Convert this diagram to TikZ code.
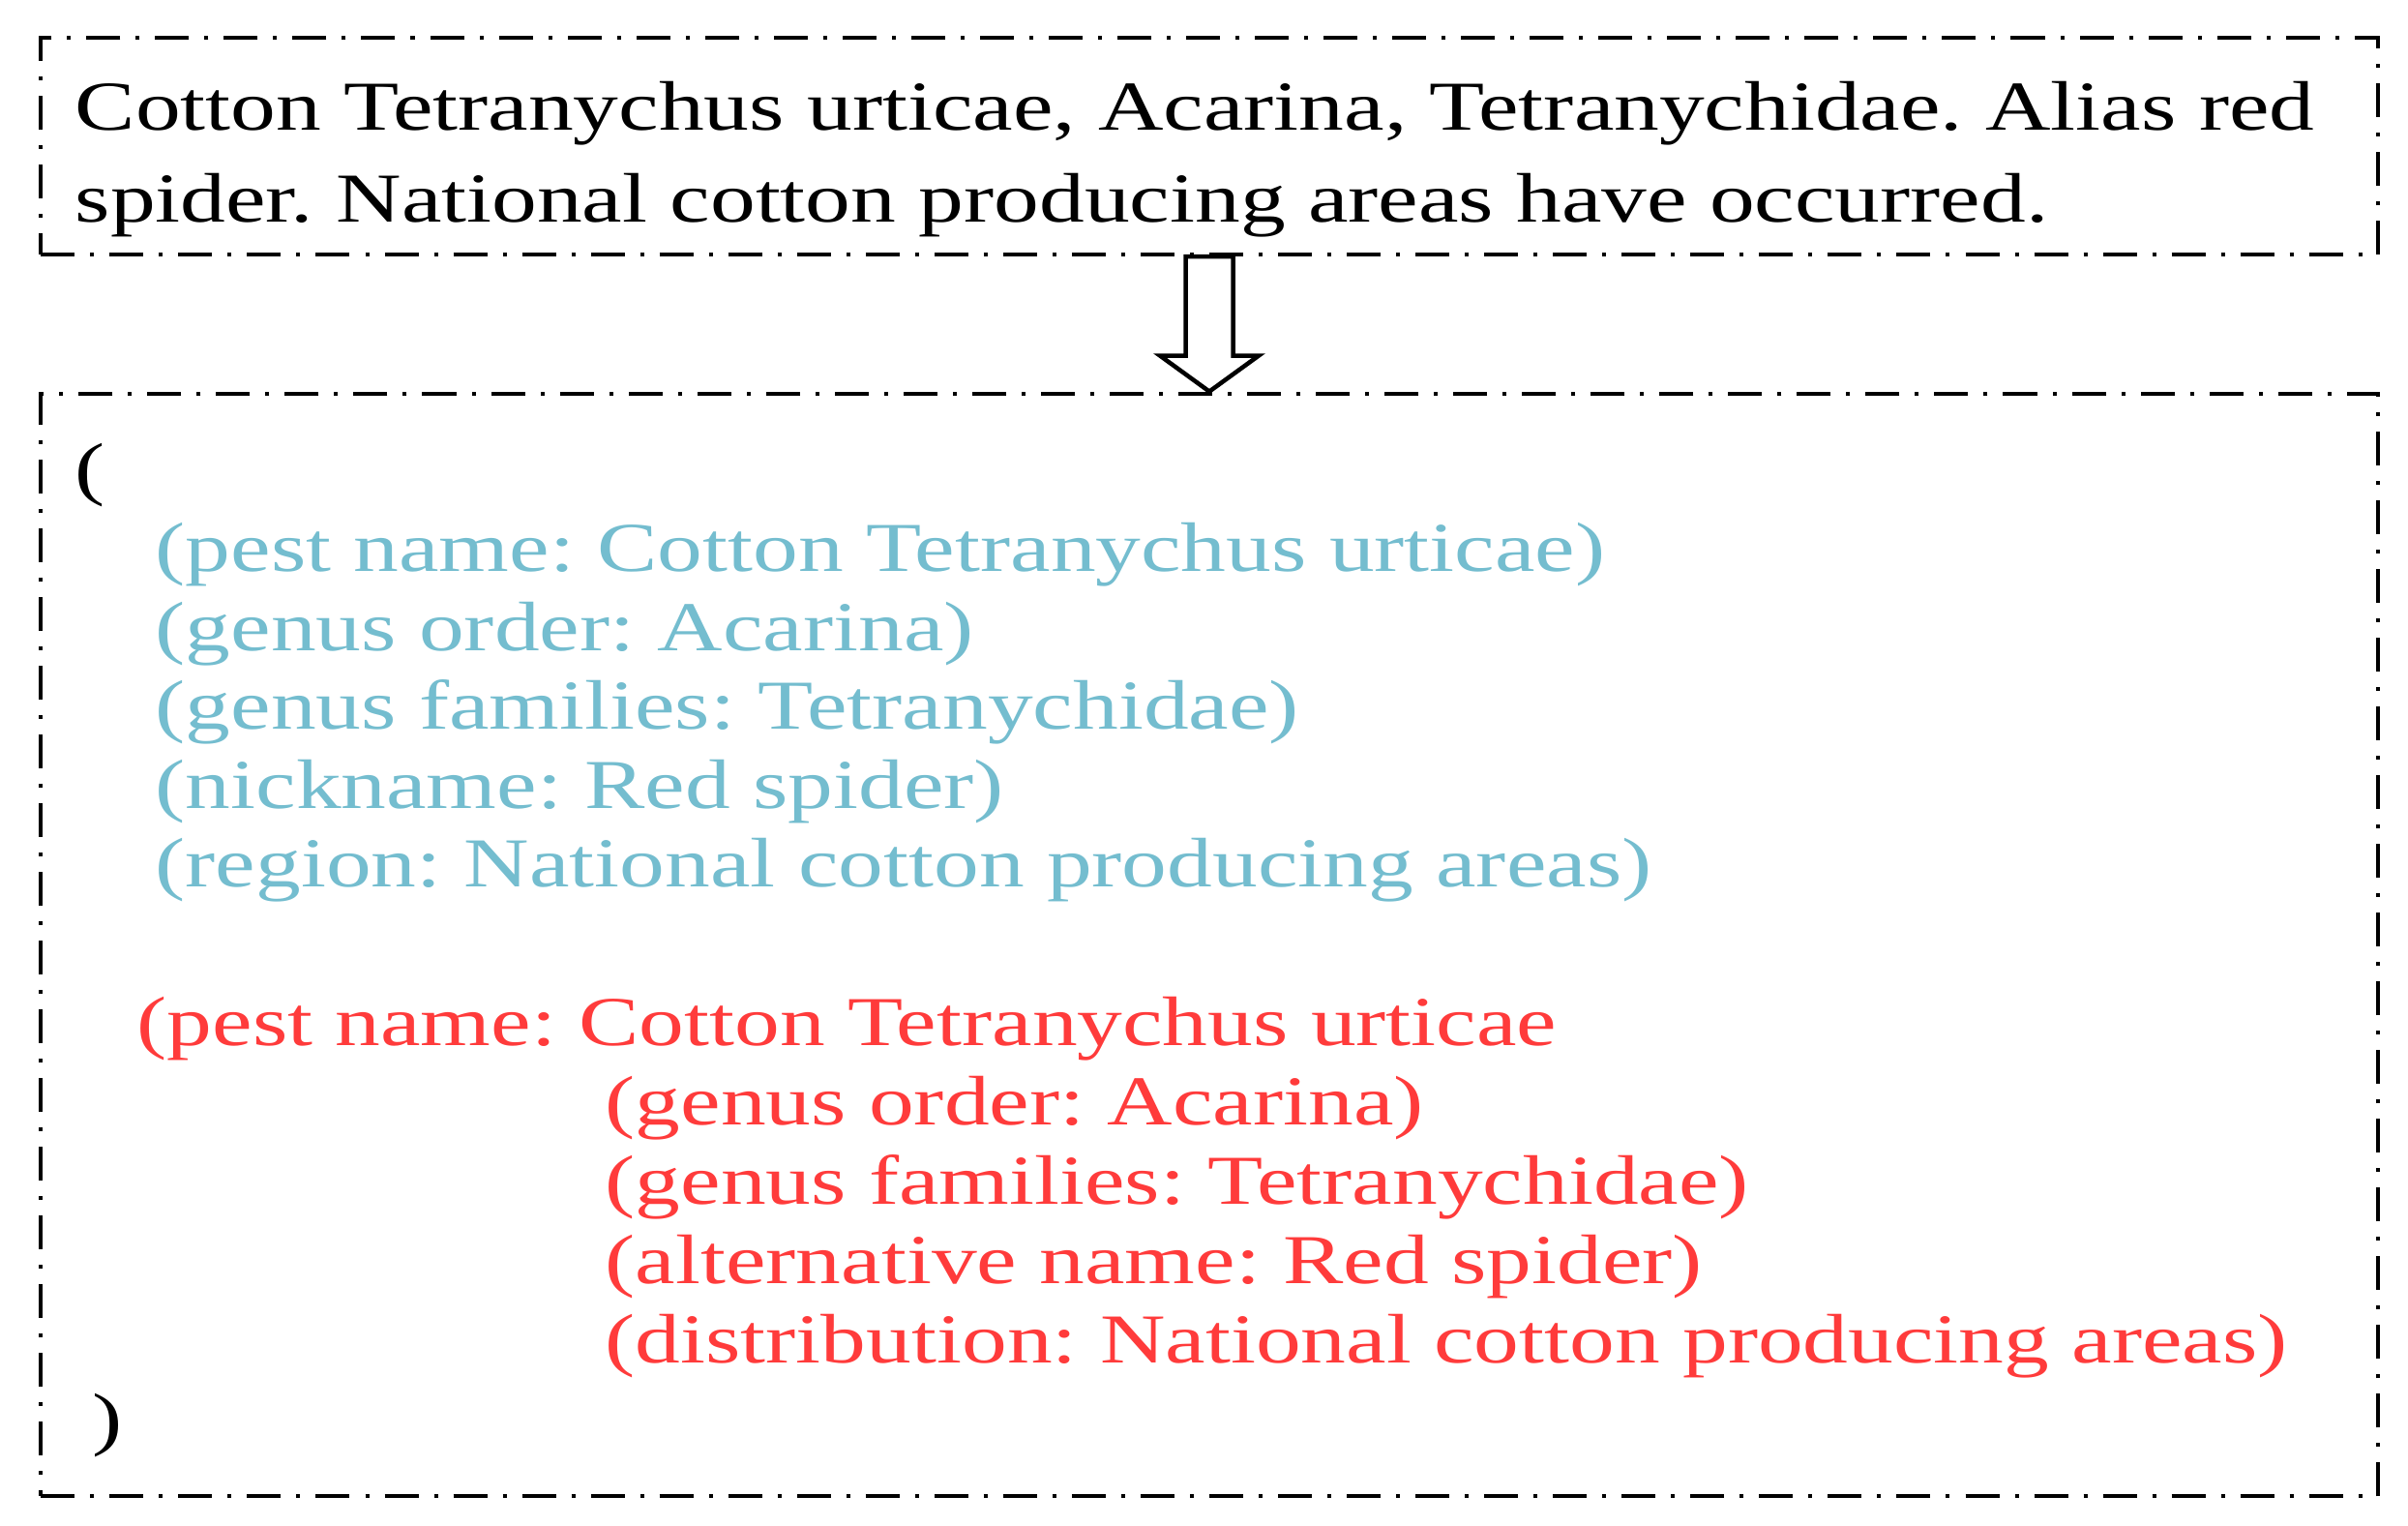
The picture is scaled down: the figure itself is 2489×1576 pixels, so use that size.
\documentclass[tikz,border=0pt]{standalone}
\usepackage{fontspec}
\setmainfont{Liberation Serif}[FakeStretch=1.29]
\usetikzlibrary{calc}
\definecolor{bluetxt}{RGB}{116,189,207}
\definecolor{redtxt}{RGB}{255,59,59}
\begin{document}
\frenchspacing
\begin{tikzpicture}[x=0.01cm,y=-0.01cm,
  frame/.style={draw, line width=0.042cm, dash pattern=on 0.35cm off 0.16cm on 0.04cm off 0.16cm, inner sep=0pt, minimum width=24.14cm},
  txt/.style={anchor=base west, inner sep=0pt, font=\fontsize{20.6}{24}\selectfont},
  bluel/.style={txt, text=bluetxt},
  redl/.style={txt, text=redtxt},
  arrowline/.style={draw, line width=0.045cm, fill=white, line join=miter}]
\useasboundingbox (0,0) rectangle (2489,1576);
\node[frame, minimum height=2.24cm] (top) at (1250,151) {};
\node[frame, minimum height=11.39cm] (bot) at (1250,976.5) {};
\draw[arrowline] ($(top.south)+(-24.5,0)$) -- ($(bot.north)+(-24.5,-37)$) -- ($(bot.north)+(-51,-37)$) -- (bot.north) -- ($(bot.north)+(51,-37)$) -- ($(bot.north)+(24.5,-37)$) -- ($(top.south)+(24.5,0)$) -- cycle;
\node[txt] (t1) at (77,135) {Cotton Tetranychus urticae, Acarina, Tetranychidae. Alias red};
\node[txt] (t2) at (77,229) {spider. National cotton producing areas have occurred.};
\node[txt] (p0) at (77,508.5) {(};
\node[bluel] (b1) at (160,590) {(pest name: Cotton Tetranychus urticae)};
\node[bluel] (b2) at (160,672) {(genus order: Acarina)};
\node[bluel] (b3) at (160,753) {(genus families: Tetranychidae)};
\node[bluel] (b4) at (160,835) {(nickname: Red spider)};
\node[bluel] (b5) at (160,916) {(region: National cotton producing areas)};
\node[redl] (r1) at (141,1080) {(pest name: Cotton Tetranychus urticae};
\node[redl] (r2) at (625,1162) {(genus order: Acarina)};
\node[redl] (r3) at (625,1244) {(genus families: Tetranychidae)};
\node[redl] (r4) at (625,1326) {(alternative name: Red spider)};
\node[redl] (r5) at (625,1408) {(distribution: National cotton producing areas)};
\node[txt] (p1) at (95,1490) {)};
\end{tikzpicture}
\end{document}
